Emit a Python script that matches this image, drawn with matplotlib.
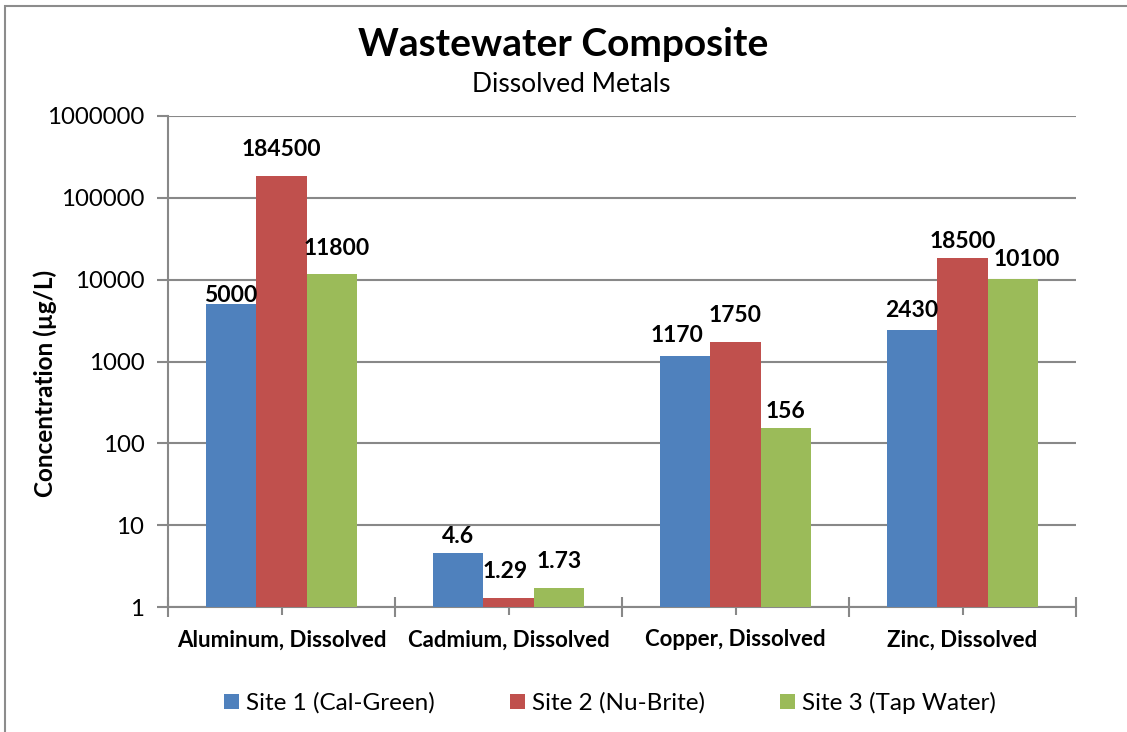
import matplotlib.pyplot as plt
import matplotlib.patches as mpatches
import numpy as np

plt.rcParams['font.family'] = ['Lato', 'DejaVu Sans']

# data
categories = ["Aluminum, Dissolved", "Cadmium, Dissolved", "Copper, Dissolved", "Zinc, Dissolved"]
series_names = ["Site 1 (Cal-Green)", "Site 2 (Nu-Brite)", "Site 3 (Tap Water)"]
site1 = [5000, 4.6, 1170, 2430]
site2 = [184500, 1.29, 1750, 18500]
site3 = [11800, 1.73, 156, 10100]
colors = ["#4F81BD", "#C0504D", "#9BBB59"]

# label nudges in pixels (dx, gap above bar), per series / category
label_dx = [[0, 0, -8, 0], [0, -3, 0, 0], [5, 0, 0, 14]]
label_gap = [[2, 10, 14, 13], [20, 20, 20, 10], [19, 20, 10, 13]]

grid_col = "#888888"

fig = plt.figure(figsize=(11.27, 7.32), dpi=100)
ax = fig.add_axes([168/1127, 1-607/732, (1076-168)/1127, (607-116)/732])

x = np.arange(len(categories))
w = 0.222
for i, (vals, name) in enumerate(zip([site1, site2, site3], series_names)):
    pos = x + (i-1)*w
    ax.bar(pos, vals, width=w, color=colors[i], label=name, zorder=3)
    for j, (px, v) in enumerate(zip(pos, vals)):
        ax.annotate(f"{v:g}", (px, v), xytext=(label_dx[i][j], label_gap[i][j]),
                    textcoords="offset pixels", ha="center", va="baseline",
                    fontsize=16.5, fontweight="bold", zorder=4)

ax.set_yscale("log")
ax.set_ylim(1, 1e6)
ax.set_xlim(-0.5, 3.5)
yt = [1, 10, 100, 1000, 10000, 100000, 1000000]
ax.set_yticks(yt)
ax.set_yticklabels([str(t) for t in yt], fontsize=17.3)
ax.yaxis.set_minor_locator(plt.NullLocator())
ax.tick_params(axis="y", direction="out", length=8, width=1.5, color=grid_col, pad=9)
ax.grid(axis="y", color=grid_col, lw=1.5, zorder=0)

ax.set_xticks(np.arange(-0.5, 4, 1))
ax.set_xticklabels([])
ax.set_xticks(x, minor=True)
ax.set_xticklabels(categories, minor=True, fontsize=16, fontweight="bold")
ax.tick_params(axis="x", which="major", direction="inout", length=14, width=1.5, color=grid_col)
ax.tick_params(axis="x", which="minor", direction="out", length=6, width=1.5, color=grid_col, pad=10)

for s in ["top", "right"]:
    ax.spines[s].set_visible(False)
for s in ["left", "bottom"]:
    ax.spines[s].set_color(grid_col)
    ax.spines[s].set_linewidth(1.5)

ax.set_ylabel("Concentration (µg/L)", fontsize=17.5, fontweight="bold")
ax.yaxis.set_label_coords(-0.122, 0.456)

fig.text(563/1127, 1-45/732, "Wastewater Composite", ha="center", va="center",
         fontsize=28, fontweight="bold")
fig.text(571/1127, 1-84/732, "Dissolved Metals", ha="center", va="center", fontsize=19)

ax.legend(loc="center", bbox_to_anchor=(610/1127, 1-703/732), bbox_transform=fig.transFigure,
          ncol=3, frameon=False, fontsize=17.5, handlelength=0.6, handleheight=0.6,
          handletextpad=0.3, columnspacing=3.1)

# outer chart border (cut at right and bottom)
fig.patches.append(mpatches.Rectangle((4.5/1127, -0.1), 1.2, 1.1-5.5/732, transform=fig.transFigure,
                                      fill=False, edgecolor="#8c8c8c", lw=1.5))

fig.savefig("out.png", dpi=100)
